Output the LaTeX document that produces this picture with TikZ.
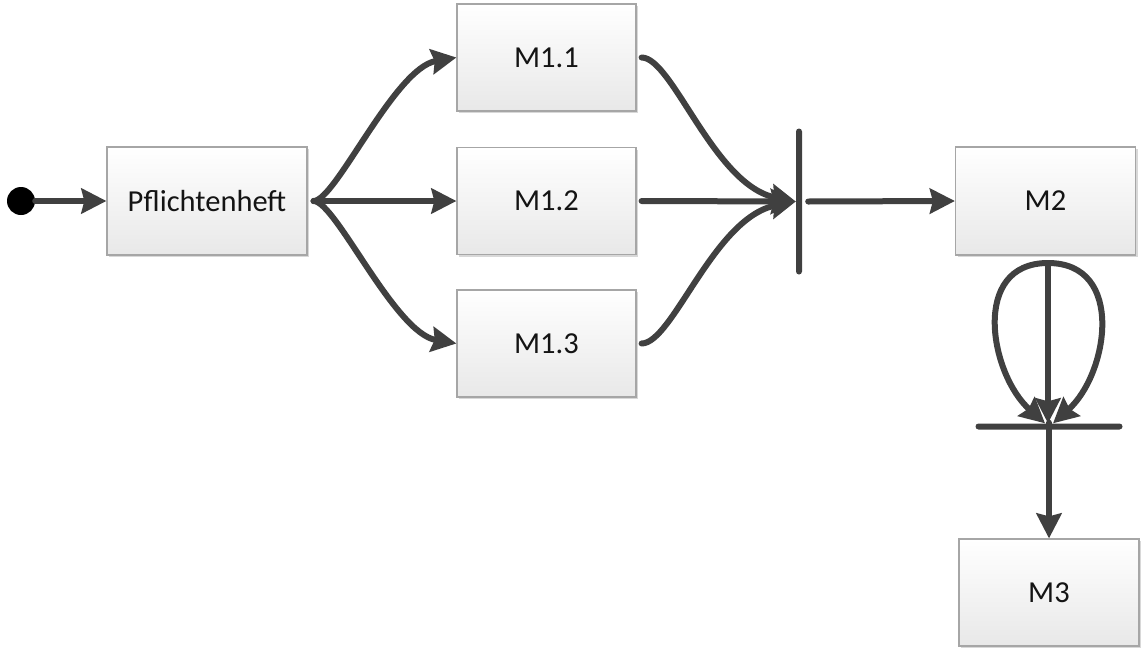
\documentclass[tikz,border=0pt]{standalone}
\usepackage{fontspec}
\setmainfont{Carlito}
\usetikzlibrary{arrows.meta,shadows}
\definecolor{arrowgray}{HTML}{404040}
\definecolor{boxborder}{HTML}{A6A6A6}
\pgfdeclareradialshading{bgshade}{\pgfpoint{0bp}{0bp}}{color(0bp)=(white); color(29bp)=(white); color(50bp)=(black!14); color(100bp)=(black!14)}
\tikzset{
  box/.style={draw=boxborder, line width=1.2pt, top color=white, bottom color=black!9,
    minimum width=180pt, minimum height=107pt, inner sep=0pt,
    font=\fontsize{30.5}{36}\selectfont, text=black!92,
    drop shadow={shadow xshift=2pt, shadow yshift=-2pt, fill=black!25, opacity=0.6}},
  arr/.style={line width=6pt, draw=arrowgray, line cap=round,
    -{Stealth[length=25pt,width=25pt,inset=3pt]}},
  barnode/.style={fill=arrowgray, inner sep=0pt, rounded corners=3pt}
}
\begin{document}
\begin{tikzpicture}[x=1pt,y=-1pt]
\useasboundingbox (0,0) rectangle (1142,656);
\begin{scope}
\clip (0,0) rectangle (1142,656);
\shade[shading=bgshade] (800,150) circle (950);
\end{scope}

\node[circle, fill=black, minimum size=28pt, inner sep=0pt] (start) at (21,201) {};
\node[box, minimum width=200pt, minimum height=108pt] (pf) at (207,201) {Pflichtenheft};
\node[box, minimum width=179pt] (m11) at (546.5,57.5) {M1.1};
\node[box, minimum width=179pt] (m12) at (546.5,201) {M1.2};
\node[box, minimum width=179pt] (m13) at (546.5,343.5) {M1.3};
\node[barnode, minimum width=6pt, minimum height=146pt] (join) at (799,201.5) {};
\node[box, minimum height=108pt] (m2) at (1045.5,201) {M2};
\coordinate (lt) at (1048,263);
\node[barnode, minimum width=147pt, minimum height=6pt] (sync) at (1049,426.5) {};
\node[box] (m3) at (1049,592.5) {M3};

\draw[arr] (start.east) -- (pf.west);
\draw[arr] ([xshift=6pt]pf.east) .. controls +(22,0) and +(-62,10.5) .. (m11.west);
\draw[arr] ([xshift=6pt]pf.east) -- (m12.west);
\draw[arr] ([xshift=6pt]pf.east) .. controls +(22,0) and +(-62,-10.5) .. (m13.west);

\draw[arr] ([xshift=5pt]m11.east) .. controls +(31,0) and +(-82,-16) .. (join.west);
\draw[arr] ([xshift=5pt]m12.east) -- (join.west);
\draw[arr] ([xshift=5pt]m13.east) .. controls +(31,0) and +(-82,16) .. (join.west);

\draw[arr] ([xshift=6pt]join.east) -- (m2.west);

\draw[arr] (lt) .. controls +(-78,0) and +(-55,-49) .. ([xshift=-4pt]sync.north);
\draw[arr] (lt) .. controls +(78,0) and +(55,-49) .. ([xshift=4pt]sync.north);
\draw[arr] (lt) -- (sync.north -| lt);
\draw[arr] ([yshift=7pt]sync.south) -- (m3.north);
\end{tikzpicture}
\end{document}
